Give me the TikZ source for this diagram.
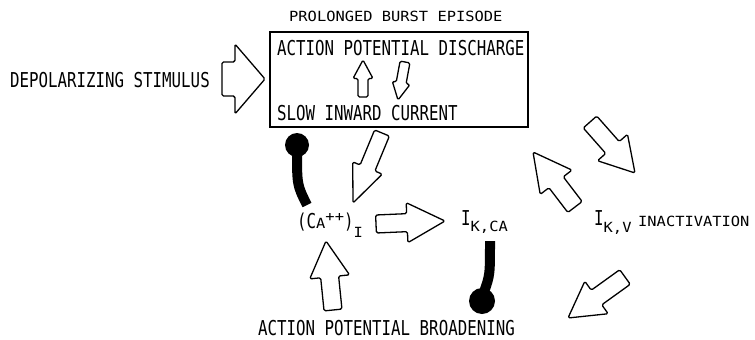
\documentclass[tikz,border=0pt]{standalone}
\usepackage{fontspec}
\usepackage{tikz}
\usetikzlibrary{calc}
\newfontfamily\capsfam[FakeStretch=0.77]{DejaVu Sans Mono}
\newfontfamily\notefam[FakeStretch=1.1]{DejaVu Sans Mono}
\newcommand{\capstxt}{\capsfam\fontsize{20.5}{22}\selectfont}
\newcommand{\notetxt}{\notefam\fontsize{14}{16}\selectfont}
\tikzset{
  lab/.style={inner sep=0pt, anchor=base west, font=\capstxt},
  note/.style={inner sep=0pt, anchor=base west, font=\notetxt},
  blockline/.style={draw, line width=1.3pt, line join=round, rounded corners=1.5pt, fill=white},
  stalk/.style={line width=10pt, line cap=butt}
}
% fat outlined arrow: from, to, shaft half width, head half width, where the head starts
\newcommand{\blockarrow}[5]{%
  \draw[blockline] ($(#1)!#3!90:(#2)$) -- ($(#1)!#5!(#2)!#3!90:(#2)$)
    -- ($(#1)!#5!(#2)!#4!90:(#2)$) -- (#2) -- ($(#1)!#5!(#2)!#4!-90:(#2)$)
    -- ($(#1)!#5!(#2)!#3!-90:(#2)$) -- ($(#1)!#3!-90:(#2)$) -- cycle;}

\begin{document}
\begin{tikzpicture}[x=1pt,y=-1pt]
\useasboundingbox (0,0) rectangle (755,340);

% texts
\node[note] (title) at (289,21) {PROLONGED BURST EPISODE};
\draw[line width=1.8pt] (270,32) rectangle (528,127);
\node[lab] (apd) at (277,55) {ACTION POTENTIAL DISCHARGE};
\node[lab] (sic) at (277,120) {SLOW INWARD CURRENT};
\node[lab] (depol) at (10,87) {DEPOLARIZING STIMULUS};
\node[lab] (ca) at (297,228) {(C{\notetxt A\raisebox{7pt}{++}})\raisebox{-9pt}{\notetxt I}};
\node[lab] (ikca) at (461,225) {I\raisebox{-6pt}{\notetxt K,CA}};
\node[lab] (ikv) at (594,225) {I\raisebox{-7pt}{\notetxt K,V}};
\node[note] (inact) at (638,226) {INACTIVATION};
\node[lab] (apb) at (258,335) {ACTION POTENTIAL BROADENING};

% arrow ends
\coordinate (d1) at (222,79);  \coordinate (d2) at (265,79);
\coordinate (u1) at (363,97);  \coordinate (u2) at (363,60);
\coordinate (w1) at (405,62);  \coordinate (w2) at (398,100);
\coordinate (b1) at (382,133); \coordinate (b2) at (353,203);
\coordinate (c1) at (376,224); \coordinate (c2) at (445,221);
\coordinate (a1) at (333,310); \coordinate (a2) at (326,241);
\coordinate (v1) at (575,207); \coordinate (v2) at (533,152);
\coordinate (s1) at (590,122); \coordinate (s2) at (635,173);
\coordinate (n1) at (625,277); \coordinate (n2) at (568,318);

\blockarrow{d1}{d2}{17pt}{35pt}{0.3}
\blockarrow{u1}{u2}{5pt}{10pt}{0.5}
\blockarrow{w1}{w2}{5pt}{9pt}{0.55}
\blockarrow{b1}{b2}{8pt}{16pt}{0.5}
\blockarrow{c1}{c2}{9pt}{20pt}{0.45}
\blockarrow{a1}{a2}{9pt}{20pt}{0.48}
\blockarrow{v1}{v2}{9pt}{20pt}{0.45}
\blockarrow{s1}{s2}{9pt}{20pt}{0.5}
\blockarrow{n1}{n2}{9pt}{20pt}{0.5}

% inhibition
\fill (297,145) circle[radius=12pt];
\draw[stalk] (297,150) .. controls (297,185) .. (307,205);
\fill (482,301) circle[radius=13pt];
\draw[stalk] (490,241) .. controls (490,275) .. (484,292);
\end{tikzpicture}
\end{document}
